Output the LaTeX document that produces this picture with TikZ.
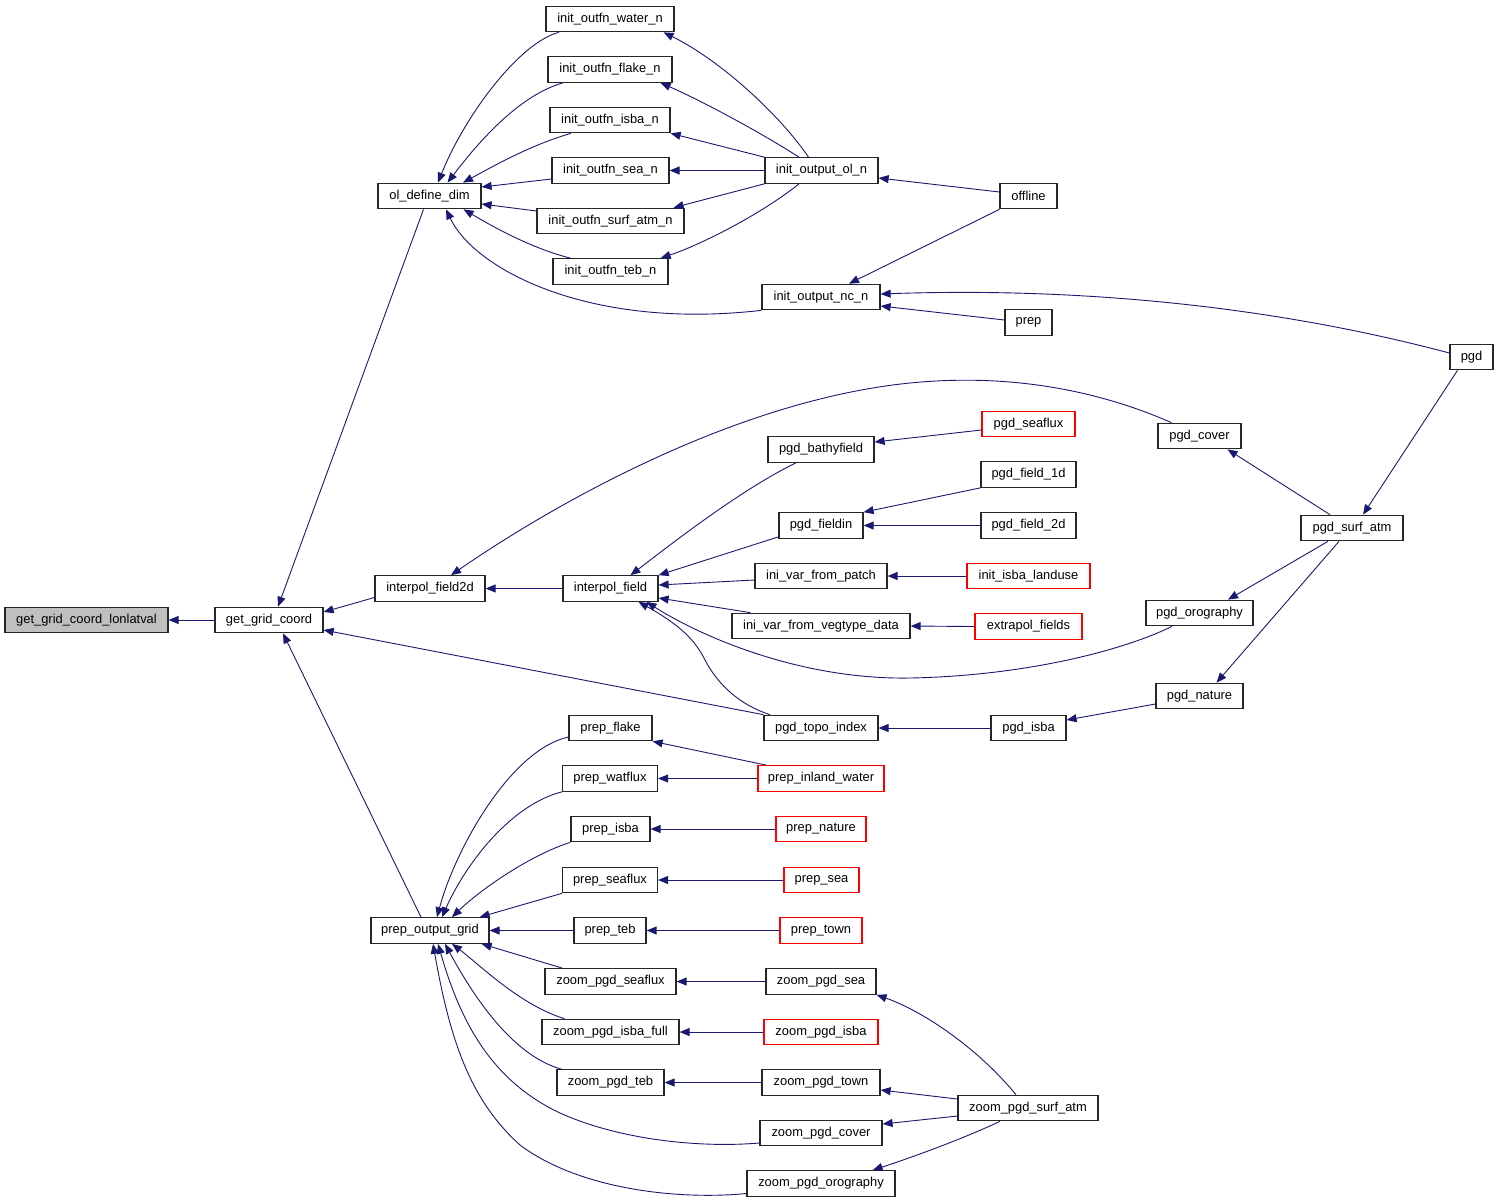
\documentclass[tikz,border=0pt]{standalone}
\usepackage{fontspec}
\setmainfont{Liberation Sans}
\usetikzlibrary{arrows.meta}
\definecolor{navyc}{HTML}{191970}
\begin{document}
\begin{tikzpicture}[x=1bp,y=-1bp,
 box/.style={draw=black!85, line width=1.2bp, fill=white, inner sep=0pt, minimum height=25.5bp, font=\fontsize{12.9bp}{14bp}\selectfont},
 rbox/.style={box, draw=red},
 cl/.style={draw=navyc, line width=0.9bp, {Triangle[length=10bp,width=8bp]}-}]
\useasboundingbox[fill=white] (0,0) rectangle (1499,1203);
\node[box,minimum width=163bp,fill=black!25] (lonlat) at (86.5,620) {get\_grid\_coord\_lonlatval};
\node[box,minimum width=108bp] (getgc) at (269,620) {get\_grid\_coord};
\node[box,minimum width=103bp] (oldef) at (429.5,196) {ol\_define\_dim};
\node[box,minimum width=128bp] (water) at (610,19) {init\_outfn\_water\_n};
\node[box,minimum width=124bp] (flake) at (610,69.5) {init\_outfn\_flake\_n};
\node[box,minimum width=120bp] (isban) at (610,120) {init\_outfn\_isba\_n};
\node[box,minimum width=117bp] (sean) at (610.5,170.5) {init\_outfn\_sea\_n};
\node[box,minimum width=147bp] (surfn) at (610.5,221) {init\_outfn\_surf\_atm\_n};
\node[box,minimum width=115bp] (tebn) at (610.5,271.5) {init\_outfn\_teb\_n};
\node[box,minimum width=113bp] (oln) at (821.5,170.5) {init\_output\_ol\_n};
\node[box,minimum width=118bp] (ncn) at (821,297) {init\_output\_nc\_n};
\node[box,minimum width=57bp] (offline) at (1028.5,196) {offline};
\node[box,minimum width=47bp] (prep) at (1028.5,322.5) {prep};
\node[box,minimum width=43bp] (pgd) at (1471.5,357) {pgd};
\node[box,minimum width=106bp] (bathy) at (821,449.5) {pgd\_bathyfield};
\node[box,minimum width=84bp] (fieldin) at (821,525.5) {pgd\_fieldin};
\node[box,minimum width=132bp] (patch) at (821,576) {ini\_var\_from\_patch};
\node[box,minimum width=178bp] (veg) at (821,626) {ini\_var\_from\_vegtype\_data};
\node[box,minimum width=110bp] (iftwod) at (430,588.5) {interpol\_field2d};
\node[box,minimum width=95bp] (ifld) at (610.5,588.5) {interpol\_field};
\node[box,minimum width=114bp] (topo) at (821,728) {pgd\_topo\_index};
\node[rbox,minimum width=93bp] (seaflux) at (1028.5,424) {pgd\_seaflux};
\node[box,minimum width=83bp] (cover) at (1199.5,436) {pgd\_cover};
\node[box,minimum width=95bp] (fone) at (1028.5,474.5) {pgd\_field\_1d};
\node[box,minimum width=95bp] (ftwo) at (1028.5,525.5) {pgd\_field\_2d};
\node[box,minimum width=102bp] (surfatm) at (1352,528) {pgd\_surf\_atm};
\node[rbox,minimum width=123bp] (landuse) at (1028.5,576) {init\_isba\_landuse};
\node[rbox,minimum width=107bp] (extrapol) at (1028.5,626.5) {extrapol\_fields};
\node[box,minimum width=107bp] (oro) at (1199.5,613) {pgd\_orography};
\node[box,minimum width=87bp] (nature) at (1199.5,696) {pgd\_nature};
\node[box,minimum width=75bp] (pgdisba) at (1028.5,728) {pgd\_isba};
\node[box,minimum width=83bp] (pflake) at (610.5,728) {prep\_flake};
\node[box,minimum width=95bp] (watflux) at (610,778.5) {prep\_watflux};
\node[rbox,minimum width=126bp] (inland) at (821,778.5) {prep\_inland\_water};
\node[box,minimum width=79bp] (pisba) at (610.5,829) {prep\_isba};
\node[rbox,minimum width=90bp] (pnature) at (821,829) {prep\_nature};
\node[box,minimum width=95bp] (pseaflux) at (610,880) {prep\_seaflux};
\node[rbox,minimum width=75bp] (psea) at (821.5,880) {prep\_sea};
\node[box,minimum width=118bp] (pog) at (430,930.5) {prep\_output\_grid};
\node[box,minimum width=72bp] (pteb) at (610,930.5) {prep\_teb};
\node[rbox,minimum width=82bp] (ptown) at (821,930.5) {prep\_town};
\node[box,minimum width=131bp] (zseaflux) at (610.5,981.5) {zoom\_pgd\_seaflux};
\node[box,minimum width=110bp] (zsea) at (821,981.5) {zoom\_pgd\_sea};
\node[box,minimum width=137bp] (zisbaf) at (610.5,1032) {zoom\_pgd\_isba\_full};
\node[rbox,minimum width=114bp] (zisba) at (821,1032) {zoom\_pgd\_isba};
\node[box,minimum width=107bp] (zteb) at (610.5,1082.5) {zoom\_pgd\_teb};
\node[box,minimum width=118bp] (ztown) at (821,1082.5) {zoom\_pgd\_town};
\node[box,minimum width=122bp] (zcover) at (821,1133) {zoom\_pgd\_cover};
\node[box,minimum width=148bp] (zoro) at (821,1183.5) {zoom\_pgd\_orography};
\node[box,minimum width=140bp] (zsurf) at (1028,1108) {zoom\_pgd\_surf\_atm};
% edges
\draw[cl] (lonlat.east) -- (getgc.west);
\draw[cl] ([xshift=9bp]getgc.north) -- ([xshift=-6bp]oldef.south);
\draw[cl] ([yshift=8bp]getgc.east) -- ([yshift=-9bp]iftwod.west);
\draw[cl] ([yshift=-10bp]getgc.east) -- (topo.north west);
\draw[cl] ([xshift=14bp]getgc.south) -- ([xshift=-9bp]pog.north);
\draw[cl] ([xshift=8.5bp]oldef.north) .. controls (465,115) and (520,42) .. ([xshift=-51bp]water.south);
\draw[cl] ([xshift=18bp]oldef.north) .. controls (480,140) and (520,95) .. ([xshift=-47bp]flake.south);
\draw[cl] ([xshift=33.5bp]oldef.north) .. controls (490,168) and (530,145) .. ([xshift=-39bp]isban.south);
\draw[cl] ([yshift=9bp]oldef.east) -- ([yshift=-8.5bp]sean.west);
\draw[cl] ([yshift=-8bp]oldef.east) -- ([yshift=10bp]surfn.west);
\draw[cl] ([xshift=-18bp]oldef.south east) .. controls (490,225) and (530,248) .. ([xshift=-40bp]tebn.north);
\draw[cl] ([xshift=16.5bp]oldef.south) .. controls (475,270) and (590,330) .. (ncn.south west);
\draw[cl] ([xshift=-11bp]water.south east) .. controls (720,60) and (780,115) .. ([xshift=-13bp]oln.north);
\draw[cl] ([xshift=-12bp]flake.south east) .. controls (700,100) and (760,132) .. ([xshift=-22.5bp]oln.north);
\draw[cl] (isban.south east) -- (oln.north west);
\draw[cl] (sean.east) -- (oln.west);
\draw[cl] ([xshift=-11bp]surfn.north east) -- (oln.south west);
\draw[cl] ([xshift=-8bp]tebn.north east) .. controls (700,245) and (760,215) .. ([xshift=-22.5bp]oln.south);
\draw[cl] ([yshift=-7.5bp]oln.east) -- ([yshift=4bp]offline.west);
\draw[cl] ([xshift=28bp]ncn.north) -- (offline.south west);
\draw[cl] ([yshift=-9bp]ncn.east) -- ([yshift=2.5bp]prep.west);
\draw[cl] ([yshift=3bp]ncn.east) .. controls (1050,288) and (1250,300) .. ([yshift=4bp]pgd.west);
\draw[cl] ([xshift=11bp]surfatm.north) -- ([xshift=-14bp]pgd.south);
\draw[cl] ([xshift=21bp]iftwod.north) .. controls (560,500) and (740,400) .. (910,383) .. controls (1030,371) and (1120,400) .. ([xshift=-28bp]cover.north);
\draw[cl] (iftwod.east) -- (ifld.west);
\draw[cl] ([xshift=20bp]ifld.north) .. controls (670,545) and (740,490) .. ([xshift=-25bp]bathy.south);
\draw[cl] (ifld.north east) -- ([yshift=2bp]fieldin.south west);
\draw[cl] ([yshift=3.5bp]ifld.east) -- ([yshift=-4bp]patch.west);
\draw[cl] ([yshift=-9.5bp]ifld.east) -- ([xshift=19bp]veg.north west);
\draw[cl] ([xshift=36bp]ifld.south) .. controls (700,636) and (800,680) .. (910,678) .. controls (1020,676) and (1120,652) .. ([xshift=-27.5bp]oro.south);
\draw[cl] ([xshift=28bp]ifld.south) .. controls (680,625) and (695,640) .. (705,660) .. controls (718,685) and (740,705) .. ([xshift=-51bp]topo.north);
\draw[cl] ([yshift=7.5bp]bathy.east) -- ([yshift=-6bp]seaflux.west);
\draw[cl] (fieldin.north east) -- (fone.south west);
\draw[cl] (fieldin.east) -- (ftwo.west);
\draw[cl] (patch.east) -- (landuse.west);
\draw[cl] (veg.east) -- (extrapol.west);
\draw[cl] ([xshift=28bp]cover.south) -- ([xshift=-22bp]surfatm.north);
\draw[cl] ([xshift=28.5bp]oro.north) -- ([xshift=-24bp]surfatm.south);
\draw[cl] ([xshift=17bp]nature.north) -- ([xshift=-13bp]surfatm.south);
\draw[cl] ([yshift=8bp]pgdisba.east) -- ([yshift=-8bp]nature.west);
\draw[cl] (topo.east) -- (pgdisba.west);
\draw[cl] (pflake.south east) -- ([xshift=9bp]inland.north west);
\draw[cl] (watflux.east) -- (inland.west);
\draw[cl] (pisba.east) -- (pnature.west);
\draw[cl] (pseaflux.east) -- (psea.west);
\draw[cl] (pteb.east) -- (ptown.west);
\draw[cl] (zseaflux.east) -- (zsea.west);
\draw[cl] (zisbaf.east) -- (zisba.west);
\draw[cl] (zteb.east) -- (ztown.west);
\draw[cl] (zsea.south east) .. controls (920,1010) and (975,1045) .. ([xshift=-12bp]zsurf.north);
\draw[cl] ([yshift=-7.5bp]ztown.east) -- ([yshift=9bp]zsurf.west);
\draw[cl] ([yshift=9bp]zcover.east) -- ([yshift=-8bp]zsurf.west);
\draw[cl] ([xshift=-23bp]zoro.north east) .. controls (910,1158) and (960,1140) .. ([xshift=-28bp]zsurf.south);
\draw[cl] ([xshift=7bp]pog.north) .. controls (455,850) and (510,750) .. ([yshift=-9bp]pflake.west);
\draw[cl] ([xshift=12bp]pog.north) .. controls (465,865) and (510,805) .. (watflux.south west);
\draw[cl] ([xshift=22bp]pog.north) .. controls (480,890) and (530,855) .. (pisba.south west);
\draw[cl] ([xshift=-10bp]pog.north east) -- (pseaflux.south west);
\draw[cl] (pog.east) -- (pteb.west);
\draw[cl] ([xshift=-8bp]pog.south east) -- ([xshift=18bp]zseaflux.north west);
\draw[cl] ([xshift=22bp]pog.south) .. controls (480,965) and (520,1005) .. ([xshift=23bp]zisbaf.north west);
\draw[cl] ([xshift=15bp]pog.south) .. controls (470,990) and (510,1055) .. ([xshift=5bp]zteb.north west);
\draw[cl] ([xshift=8bp]pog.south) .. controls (460,1020) and (490,1080) .. (560,1113) .. controls (620,1140) and (700,1148) .. ([yshift=-10bp]zcover.west);
\draw[cl] ([xshift=3bp]pog.south) .. controls (450,1040) and (470,1100) .. (520,1145) .. controls (580,1190) and (680,1200) .. ([yshift=-10bp]zoro.west);
\end{tikzpicture}
\end{document}
